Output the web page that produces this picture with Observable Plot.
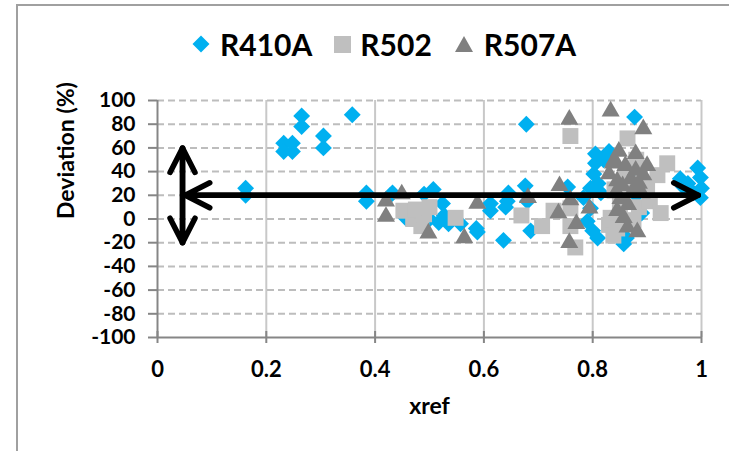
<!DOCTYPE html>
<html>
<head>
<meta charset="utf-8">
<script src="https://cdn.jsdelivr.net/npm/d3@7"></script>
<script src="https://cdn.jsdelivr.net/npm/@observablehq/plot@0.6"></script>
<style>
  body { margin: 0; background: #fff; }
  #frame { position: relative; width: 729px; height: 451px; overflow: hidden; font-family: Lato, "Open Sans", sans-serif; }
  #border { position: absolute; left: 16px; top: 4px; width: 900px; height: 700px; border: 2px solid #a0a0a0; box-sizing: border-box; pointer-events: none; }
  #legend { position: relative; height: 80px; display: flex; align-items: center; padding-left: 192px; padding-top: 8px; box-sizing: border-box; font-weight: bold; font-size: 30px; color: #000; }
  #legend .key { display: flex; align-items: center; }
  #legend svg { display: block; }
  #chart svg { display: block; overflow: visible; }
</style>
</head>
<body>
<div id="frame">
  <div id="legend"></div>
  <div id="chart"></div>
  <div id="border"></div>
</div>
<script>
// Series: reference mole fraction (xref) vs. deviation (%)
const r410aX = [0.162,0.162,0.232,0.248,0.232,0.248,0.265,0.265,0.305,0.305,0.358,0.384,0.384,0.428,0.432,0.456,0.468,0.49,0.5,0.507,0.517,0.524,0.527,0.535,0.557,0.586,0.588,0.612,0.612,0.636,0.64,0.643,0.645,0.676,0.678,0.68,0.686,0.754,0.783,0.79,0.796,0.796,0.8,0.802,0.805,0.805,0.809,0.81,0.815,0.82,0.83,0.857,0.862,0.87,0.877,0.88,0.89,0.961,0.967,0.975,0.985,0.993,0.998,1.0,0.998];
const r410aY = [26,20,64,64,57,57,87,78,70,60,88,22,15,20,22,1,5,21,0,25,-3,13,3,-4,-4,-8,-11,13,7,-18,10,15,22,28,80,15,-10,27,18,-2,26,9,-10,38,47,55,-16,30,22,50,57,-21,-16,40,86,20,5,34,27,30,22,43,35,26,18];

const r502X = [0.452,0.47,0.475,0.485,0.49,0.5,0.548,0.669,0.707,0.728,0.759,0.759,0.759,0.768,0.83,0.833,0.838,0.84,0.845,0.85,0.855,0.86,0.864,0.87,0.875,0.88,0.885,0.9,0.905,0.919,0.925,0.937];
const r502Y = [7,0,8,-6,4,10,1,3,-6,7,70,9,-6,-24,-5,1,-14,25,-8,12,20,40,68,30,-1,50,10,27,15,37,5,47];

const r507aX = [0.42,0.42,0.449,0.498,0.564,0.588,0.681,0.737,0.739,0.757,0.757,0.759,0.77,0.794,0.83,0.833,0.837,0.84,0.842,0.845,0.845,0.848,0.851,0.855,0.857,0.86,0.864,0.865,0.87,0.875,0.879,0.879,0.882,0.885,0.89,0.893,0.893,0.9];
const r507aY = [15,2,21,-12,-16,13,18,5,28,84,-20,16,-4,9,38,91,47,50,22,32,7,57,17,28,1,45,-7,12,34,25,55,41,-11,30,22,76,37,45];

// Axis ticks and labels
const xTicks = [0, 0.2, 0.4, 0.6, 0.8, 1];
const xTickLabels = ["0", "0.2", "0.4", "0.6", "0.8", "1"];
const yTicks = [-100, -80, -60, -40, -20, 0, 20, 40, 60, 80, 100];
const yTickLabels = ["-100", "-80", "-60", "-40", "-20", "0", "20", "40", "60", "80", "100"];

// Annotation arrows (data coordinates): horizontal band centre and vertical spread
const hArrowX = [0.051, 0.994];
const hArrowY = [20, 20];
const vArrowX = [0.046, 0.046];
const vArrowY = [-20, 60];

const seriesNames = ["R410A", "R502", "R507A"];
const seriesColors = ["#00B0F0", "#BFBFBF", "#808080"];

const toRows = (xs, ys) => xs.map((x, i) => ({x, y: ys[i]}));
const r410a = toRows(r410aX, r410aY);
const r502 = toRows(r502X, r502Y);
const r507a = toRows(r507aX, r507aY);

const arrows = [
  {x1: hArrowX[0], y1: hArrowY[0], x2: hArrowX[1], y2: hArrowY[1]},
  {x1: hArrowX[1], y1: hArrowY[1], x2: hArrowX[0], y2: hArrowY[0]},
  {x1: vArrowX[0], y1: vArrowY[0], x2: vArrowX[1], y2: vArrowY[1]},
  {x1: vArrowX[1], y1: vArrowY[1], x2: vArrowX[0], y2: vArrowY[0]}
];

// Legend
const swatches = [
  '<svg width="18" height="18"><path d="M9 0.5L17.5 9L9 17.5L0.5 9Z" fill="' + seriesColors[0] + '"/></svg>',
  '<svg width="17" height="17"><rect width="17" height="17" fill="' + seriesColors[1] + '"/></svg>',
  '<svg width="18" height="16"><path d="M9 0L18 16L0 16Z" fill="' + seriesColors[2] + '"/></svg>'
];
const gaps = [[10, 22], [9, 23], [11, 0]];
document.getElementById("legend").innerHTML = seriesNames.map((name, i) =>
  `<span class="key" style="margin-right:${gaps[i][1]}px">${swatches[i]}<span style="margin-left:${gaps[i][0]}px">${name}</span></span>`
).join("");

const axisGrey = "#868686";
const font = "Lato, 'Open Sans', sans-serif";

const chart = Plot.plot({
  width: 729,
  height: 371,
  marginTop: 20,
  marginBottom: 114,
  marginLeft: 157,
  marginRight: 28,
  style: {fontFamily: font, fontWeight: "bold", fontSize: "21px", color: "#000", background: "transparent"},
  x: {domain: [0, 1]},
  y: {domain: [-100, 100]},
  marks: [
    Plot.gridX({ticks: xTicks.slice(1), stroke: "#c8c8c8", strokeOpacity: 1, strokeWidth: 2}),
    Plot.gridY({ticks: yTicks.slice(1), stroke: "#bdbdbd", strokeOpacity: 1, strokeWidth: 2, strokeDasharray: "7,4"}),
    Plot.ruleX([0], {stroke: axisGrey, strokeWidth: 2}),
    Plot.ruleY([-100], {stroke: axisGrey, strokeWidth: 2}),
    Plot.axisY({ticks: yTicks, tickSize: 9, tickPadding: 13, stroke: axisGrey, strokeWidth: 2, fill: "#000",
      tickFormat: (d) => yTickLabels[yTicks.indexOf(d)], fontSize: 21, fontWeight: "bold", label: null}),
    Plot.axisX({ticks: xTicks, tickSize: 6, tickPadding: 18, stroke: axisGrey, strokeWidth: 2, fill: "#000",
      tickFormat: (d) => xTickLabels[xTicks.indexOf(d)], fontSize: 22, fontWeight: "bold", label: null}),
    Plot.axisX({ticks: xTicks, tickSize: -6, stroke: axisGrey, strokeWidth: 2, tickFormat: () => "", label: null}),
    Plot.dot(r410a, {x: "x", y: "y", symbol: "diamond2", fill: seriesColors[0], r: 7.6}),
    Plot.dot(r502, {x: "x", y: "y", symbol: "square", fill: seriesColors[1], r: 9}),
    Plot.dot(r507a, {x: "x", y: "y", symbol: "triangle", fill: seriesColors[2], r: 6.7}),
    Plot.arrow(arrows, {x1: "x1", y1: "y1", x2: "x2", y2: "y2", stroke: "#000", strokeWidth: 5.5, headAngle: 54, headLength: 7.5}),
    Plot.text(["Deviation (%)"], {frameAnchor: "left", rotate: -90, dx: -91, fontSize: 23, fontWeight: "bold", fill: "#000"}),
    Plot.text(["xref"], {frameAnchor: "bottom", dy: 76, fontSize: 23, fontWeight: "bold", fill: "#000"})
  ]
});
document.getElementById("chart").appendChild(chart);
</script>
</body>
</html>
